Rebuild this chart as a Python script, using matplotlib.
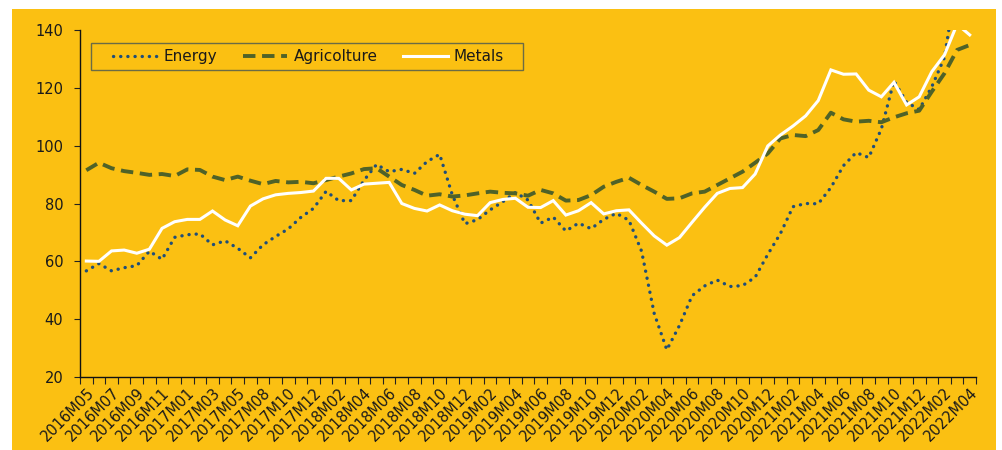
import matplotlib
matplotlib.use("Agg")
import matplotlib.pyplot as plt
from matplotlib.patches import Rectangle
import numpy as np

months = ["2016M05","2016M06","2016M07","2016M08","2016M09","2016M10","2016M11","2016M12",
          "2017M01","2017M02","2017M03","2017M04","2017M05","2017M07","2017M08","2017M09",
          "2017M10","2017M11","2017M12","2018M01","2018M02","2018M03","2018M04","2018M05",
          "2018M06","2018M07","2018M08","2018M09","2018M10","2018M11","2018M12","2019M01",
          "2019M02","2019M03","2019M04","2019M05","2019M06","2019M07","2019M08","2019M09",
          "2019M10","2019M11","2019M12","2020M01","2020M02","2020M03","2020M04","2020M05",
          "2020M06","2020M07","2020M08","2020M09","2020M10","2020M11","2020M12","2021M01",
          "2021M02","2021M03","2021M04","2021M05","2021M06","2021M07","2021M08","2021M09",
          "2021M10","2021M11","2021M12","2022M01","2022M02","2022M03","2022M04"]

energy = [56.7,59.2,56.7,57.8,58.5,63.5,60.7,68.3,69.2,69.5,65.7,67.1,64.5,61.2,65.7,68.6,
          71.2,75.2,78.3,84.2,81.0,81.0,88.0,93.5,91.0,91.8,90.4,94.5,97.0,83.0,73.0,74.4,
          77.8,80.6,83.8,81.2,73.2,75.3,70.5,73.2,71.3,74.5,76.6,74.2,63.5,42.0,29.4,37.8,
          48.1,51.5,53.5,51.3,51.6,54.5,62.4,69.6,78.9,80.0,79.9,85.5,93.1,97.6,95.9,105.8,
          122.4,115.0,112.5,120.4,130.5,158.0,150.0]

agriculture = [91.5,94.1,92.2,91.2,90.6,89.9,90.2,89.5,91.8,91.6,89.3,88.1,89.3,87.9,86.7,87.8,
               87.3,87.5,87.0,88.1,89.3,90.4,91.9,92.2,89.3,86.4,84.7,82.7,83.2,82.4,82.8,83.5,
               84.1,83.7,83.5,82.7,84.7,83.5,81.0,81.2,82.9,85.8,87.5,88.9,86.4,84.1,81.6,81.8,
               83.5,84.1,86.4,88.7,91.0,94.1,97.3,102.5,103.7,103.3,105.4,111.4,109.1,108.3,108.6,
               108.1,109.8,111.2,112.1,118.7,125.0,133.1,134.8]

metals = [60.1,60.0,63.6,63.9,62.8,64.2,71.4,73.7,74.5,74.5,77.4,74.3,72.3,79.1,81.6,83.0,
          83.5,83.8,84.3,88.7,88.7,84.7,86.7,87.0,87.3,80.0,78.3,77.4,79.5,77.5,76.3,75.8,
          80.3,81.4,81.8,78.7,78.6,81.0,76.0,77.5,80.3,76.4,77.5,77.8,73.2,68.8,65.6,68.2,
          73.5,78.7,83.5,85.2,85.5,90.2,99.9,103.7,106.8,110.3,115.6,126.2,124.7,124.8,119.2,
          116.9,121.9,114.1,116.9,125.6,131.4,142.0,138.3]

series_labels = ["Energy", "Agricolture", "Metals"]
yticks = [20, 40, 60, 80, 100, 120, 140]

BG = "#FBC012"
TXT = "#1a1a1a"

plt.rcParams['font.family'] = ['DejaVu Sans']

W, H = 1003, 450
fig = plt.figure(figsize=(W/100, H/100), dpi=100)
fig.patch.set_facecolor("white")
bg = Rectangle((12/W, 0), (996-12)/W, 1 - 9/H,
               transform=fig.transFigure, facecolor=BG, edgecolor="none", zorder=-10)
fig.patches.append(bg)

# legend frame (drawn separately for padding control)
frame = Rectangle((91/W, 1 - 70/H), (523-91)/W, 27/H, transform=fig.transFigure,
                  facecolor="none", edgecolor="#6b6b45", linewidth=1.0, zorder=-5)
fig.patches.append(frame)

ax = fig.add_axes([80/W, 1-377/H, 896/W, 347/H])
ax.set_zorder(1)
ax.patch.set_alpha(0)

x = np.arange(len(months))
ax.plot(x, energy, color="#1F4E79", lw=2.4, linestyle=(0, (0.05, 2.1)),
        dash_capstyle="round", solid_capstyle="round", label=series_labels[0], zorder=3)
ax.plot(x, agriculture, color="#4F6228", lw=2.8, linestyle=(0, (3.2, 1.7)),
        dash_capstyle="butt", label=series_labels[1], zorder=3)
ax.plot(x, metals, color="white", lw=2.2, solid_joinstyle="miter", label=series_labels[2], zorder=4)

ax.set_xlim(-0.5, len(months) - 0.5)
ax.set_ylim(20, 140)
ax.set_yticks(yticks)
ax.set_yticklabels([str(v) for v in yticks], fontsize=10.5, color=TXT)

ax.set_xticks(x[::2])
ax.set_xticklabels(months[::2], rotation=45, ha="right", va="top",
                   rotation_mode="anchor", fontsize=10.5, color=TXT)
ax.set_xticks(np.arange(-0.5, len(months), 1.0), minor=True)
ax.tick_params(axis="x", which="major", length=0, pad=6)
ax.tick_params(axis="x", which="minor", length=5, width=0.8, direction="out", color="#222222")
ax.tick_params(axis="y", which="major", length=4, width=0.8, direction="out", pad=8, color="#222222")

for s in ["top", "right"]:
    ax.spines[s].set_visible(False)
for s in ["left", "bottom"]:
    ax.spines[s].set_color("#111111")
    ax.spines[s].set_linewidth(1.0)

leg = ax.legend(loc="center left", bbox_to_anchor=((113-80)/896, (377-56.5)/347), ncol=3,
                fontsize=11, frameon=False, handlelength=2.9,
                handletextpad=0.4, columnspacing=1.7, borderpad=0, borderaxespad=0)
for t in leg.get_texts():
    t.set_color(TXT)

fig.savefig("out.png", dpi=100, facecolor=fig.get_facecolor())
